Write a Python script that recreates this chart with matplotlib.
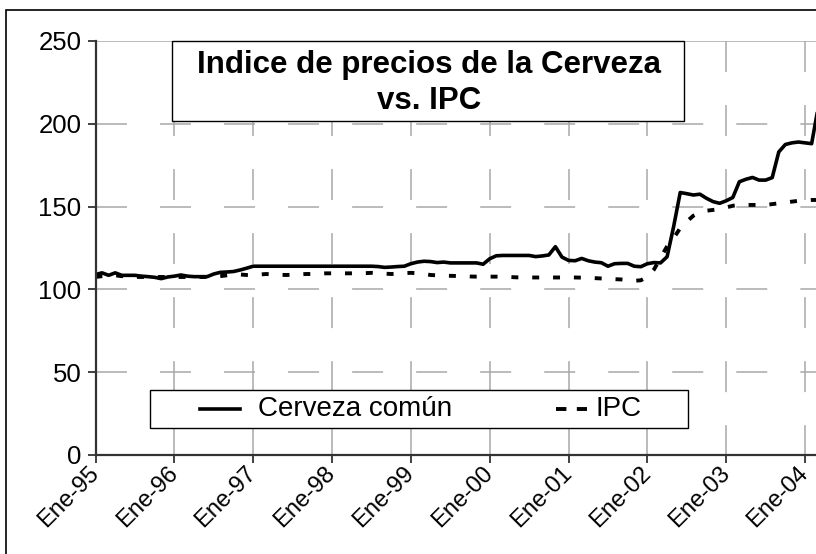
import matplotlib
matplotlib.use("Agg")
import matplotlib.pyplot as plt
from matplotlib.lines import Line2D
from matplotlib.patches import Rectangle

plt.rcParams['font.family'] = ['Liberation Sans', 'DejaVu Sans']
plt.rcParams['lines.scale_dashes'] = False

# Monthly index, January 1995 onwards
cerveza = [
    109, 110, 108.5, 110, 108.5, 108.5, 108.5, 108, 107.7, 107.3, 106.5, 107.5,
    108, 108.7, 108, 107.7, 107.7, 107.7, 109.3, 110.3, 110.5, 110.8, 111.7, 112.8,
    114, 114, 114, 114, 114, 114, 114, 114, 114, 114, 114, 114,
    114, 114, 114, 114, 114, 114, 114, 113.8, 113.3, 113.5, 113.8, 114,
    115.5, 116.5, 117, 116.8, 116.2, 116.5, 116, 116, 116, 116, 116, 115.2,
    118.5, 120.3, 120.5, 120.5, 120.5, 120.5, 120.5, 119.8, 120.2, 120.8, 125.8, 119.5,
    117.5, 117.3, 118.7, 117.3, 116.5, 116.1, 114, 115.5, 115.7, 115.7, 114, 113.7,
    115.5, 116.2, 116, 119.7, 138, 158.5, 157.8, 157, 157.5, 155, 153, 152,
    153.5, 155.5, 165, 166.5, 167.6, 166, 166, 167.5, 183, 187.5, 188.5, 189,
    188.5, 188, 210,
]
ipc = [
    107.5, 108, 108, 108.5, 108, 108, 107.5, 107.5, 107.5, 107.5, 107.5, 107.5,
    107.5, 107.5, 107.5, 107.5, 107.5, 107.5, 107.5, 108, 108.5, 109, 109, 108.7,
    108.7, 109, 109.3, 109, 108.8, 108.7, 108.8, 109, 109.3, 109.3, 109.5, 109.7,
    109.7, 109.7, 109.7, 109.7, 109.7, 109.8, 110, 109.8, 109.5, 109.3, 109.5, 109.8,
    110, 109.8, 109.3, 108.7, 108.5, 108.3, 108.2, 108.1, 108, 107.8, 107.7, 107.7,
    107.7, 107.7, 107.7, 107.5, 107.3, 107.2, 107.2, 107.2, 107.2, 107.2, 107.2, 107.2,
    107.2, 107.2, 107.1, 107, 106.8, 106.6, 106.5, 106.2, 106, 105.7, 105.2, 105.5,
    107.5, 112, 119, 126, 131, 137, 141, 144.5, 146.5, 147.5, 148, 148.5,
    149.5, 150.5, 151, 151, 151, 151, 151, 151.5, 152, 152.5, 153, 153.5,
    153.8, 154, 154,
]
year_labels = ['Ene-95', 'Ene-96', 'Ene-97', 'Ene-98', 'Ene-99',
               'Ene-00', 'Ene-01', 'Ene-02', 'Ene-03', 'Ene-04']
y_ticks = [0, 50, 100, 150, 200, 250]

W, H = 816, 554
fig = plt.figure(figsize=(W / 100, H / 100), dpi=100)

# outer chart frame (runs past the right and bottom edges)
fig.patches.append(Rectangle((6 / W, -0.1), 1.2, (H - 10) / H + 0.1,
                             transform=fig.transFigure, fill=False,
                             edgecolor='black', linewidth=1.2, clip_on=False))

px_month = 6.57
left_px, right_px = 95.5, 832
top_px, bot_px = 41, 455
ax = fig.add_axes([left_px / W, (H - bot_px) / H,
                   (right_px - left_px) / W, (bot_px - top_px) / H])
ax.set_xlim(0, (right_px - left_px) / px_month)
ax.set_ylim(0, 250)

grid_kw = dict(color='#a8a8a8', linewidth=1.1, dashes=(22.3, 23.8), zorder=1)
for v in y_ticks[1:-1]:
    ax.axhline(v, **grid_kw)
ax.axhline(250, color='#a8a8a8', linewidth=1.1, zorder=1)
xt = [12 * i for i in range(len(year_labels))]
for m in xt[1:]:
    ax.plot([m, m], [1, 0], transform=ax.get_xaxis_transform(), **grid_kw)

months = list(range(len(cerveza)))
ax.plot(months, cerveza, color='black', linewidth=2.6, zorder=4,
        solid_joinstyle='round')
ax.plot(list(range(len(ipc))), ipc, color='black', linewidth=2.8,
        dashes=(5, 10), dash_capstyle='butt', zorder=3)

for s in ['top', 'right']:
    ax.spines[s].set_visible(False)
for s in ['left', 'bottom']:
    ax.spines[s].set_color('#333333')
    ax.spines[s].set_linewidth(1.6)
    ax.spines[s].set_zorder(5)

ax.set_yticks(y_ticks)
ax.set_yticklabels([str(v) for v in y_ticks], fontsize=18.5)
ax.set_xticks(xt)
ax.set_xticklabels(year_labels, fontsize=17, rotation=45,
                   ha='right', va='center', rotation_mode='anchor')
ax.tick_params(axis='both', direction='out', length=6, width=1.3,
               color='#333333', pad=4)
ax.tick_params(axis='x', pad=5)

# title box
fig.patches.append(Rectangle((172 / W, (H - 121) / H), 512 / W, 80 / H,
                             transform=fig.transFigure, facecolor='white',
                             edgecolor='black', linewidth=1.0, zorder=6))
fig.text(429 / W, (H - 83) / H, 'Indice de precios de la Cerveza\nvs. IPC',
         ha='center', va='center', fontsize=22.5, fontweight='bold',
         linespacing=1.22, zorder=7)

# legend box
fig.patches.append(Rectangle((150 / W, (H - 428) / H), 538 / W, 38 / H,
                             transform=fig.transFigure, facecolor='white',
                             edgecolor='black', linewidth=1.0, zorder=6))
ly = (H - 409) / H
fig.lines.append(Line2D([200 / W, 240 / W], [ly, ly], transform=fig.transFigure,
                        color='black', linewidth=2.6, zorder=7))
fig.text(258 / W, ly, 'Cerveza común', ha='left', va='center',
         fontsize=20, zorder=7)
fig.lines.append(Line2D([556 / W, 587 / W], [ly, ly], transform=fig.transFigure,
                        color='black', linewidth=2.8, dashes=(7.5, 7.5),
                        dash_capstyle='butt', zorder=7))
fig.text(595 / W, ly, 'IPC', ha='left', va='center', fontsize=20, zorder=7)

fig.savefig('out.png', dpi=100)
